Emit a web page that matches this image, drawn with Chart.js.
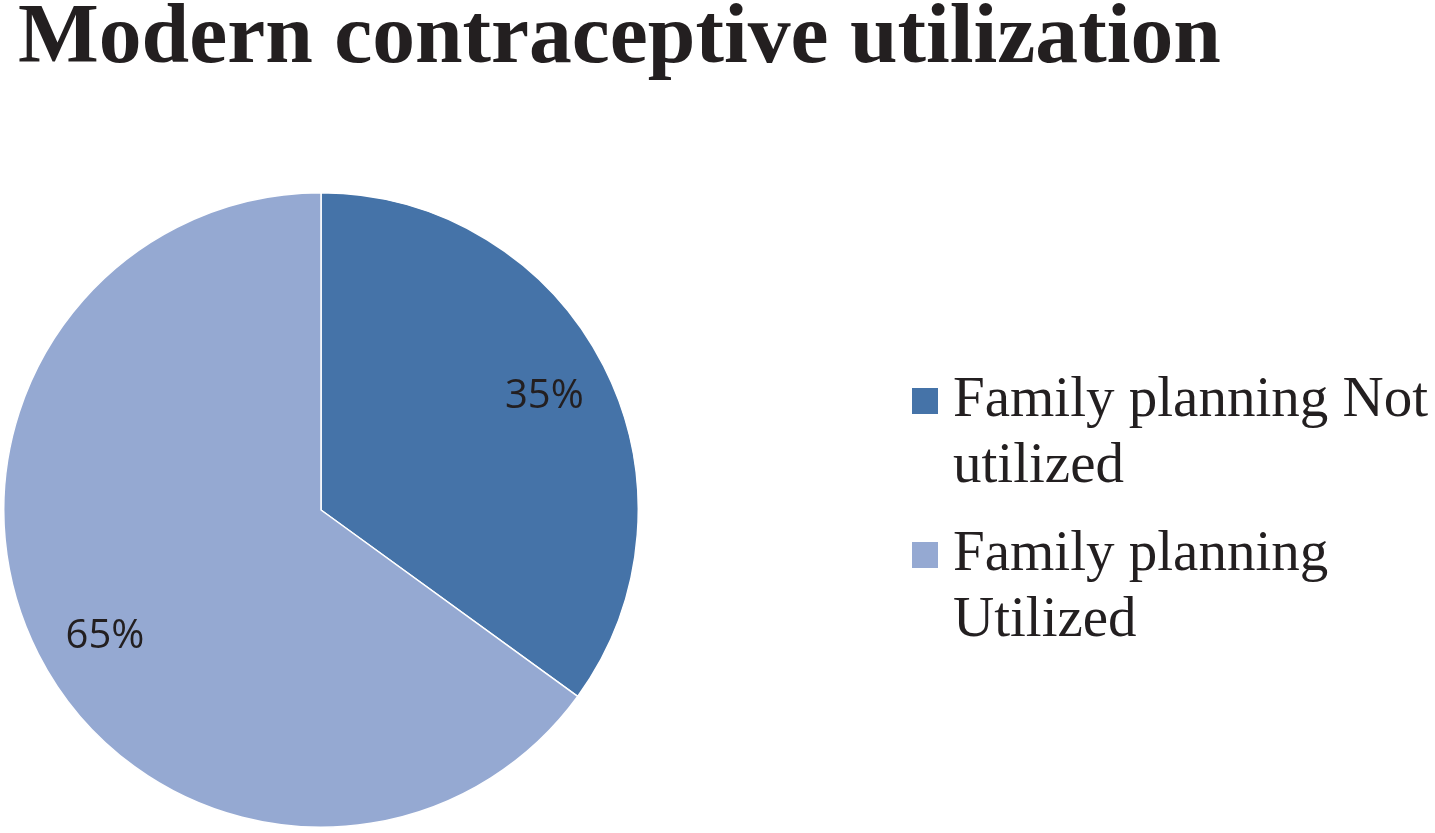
<!DOCTYPE html>
<html>
<head>
<meta charset="utf-8">
<script src="https://cdn.jsdelivr.net/npm/chart.js@4"></script>
<style>
  body { margin: 0; background: #fff; width: 1435px; height: 833px; overflow: hidden; position: relative; }
  #title { position: absolute; left: 18px; top: -16px; font-family: "Liberation Serif", "Times New Roman", serif; font-weight: bold; font-size: 85.6px; color: #231f20; white-space: nowrap; }
  #pieBox { position: absolute; left: 3px; top: 192px; width: 636px; height: 636px; }
  #legend { position: absolute; left: 912px; top: 364px; width: 530px; font-family: "Liberation Serif", "Times New Roman", serif; font-size: 57px; color: #231f20; line-height: 66px; }
  .item { position: relative; padding-left: 41px; margin-bottom: 22px; }
  .swatch { position: absolute; left: 0; top: 24px; width: 26px; height: 26px; }
</style>
</head>
<body>
<div id="title">Modern contraceptive utilization</div>
<div id="pieBox"><canvas id="pie" width="636" height="636"></canvas></div>
<div id="legend"></div>
<script>
const labels = ['Family planning Not utilized', 'Family planning Utilized']
const shares = [35, 65]
const colors = ['#4573a8', '#95a9d2']

const legendEl = document.getElementById('legend')
labels.forEach((label, i) => {
    const item = document.createElement('div')
    item.className = 'item'
    item.innerHTML = `<span class="swatch" style="background:${colors[i]}"></span>${label}`
    legendEl.appendChild(item)
})

// draw the percent text inside each slice
const sliceLabels = {
    id: 'sliceLabels',
    afterDatasetsDraw(chart) {
        const ctx = chart.ctx
        const meta = chart.getDatasetMeta(0)
        ctx.save()
        ctx.font = '40px "Open Sans", "Liberation Sans", sans-serif'
        ctx.fillStyle = '#231f20'
        ctx.textAlign = 'center'
        ctx.textBaseline = 'middle'
        meta.data.forEach((arc, i) => {
            // the larger slice's label sits a bit further round, as in the original
            const mid = (arc.startAngle + arc.endAngle) / 2 - (i === 1 ? 0.06 : 0)
            const r = arc.outerRadius * 0.79
            ctx.fillText(shares[i] + '%', arc.x + Math.cos(mid) * r, arc.y + Math.sin(mid) * r)
        })
        ctx.restore()
    },
}

new Chart(document.getElementById('pie'), {
    type: 'pie',
    data: {
        labels: labels,
        datasets: [
            {
                data: shares,
                backgroundColor: colors,
                borderColor: '#ffffff',
                borderWidth: 1.5,
            },
        ],
    },
    options: {
        responsive: false,
        animation: false,
        layout: { padding: 0 },
        plugins: {
            legend: { display: false },
            tooltip: { enabled: false },
        },
    },
    plugins: [sliceLabels],
})
</script>
</body>
</html>
